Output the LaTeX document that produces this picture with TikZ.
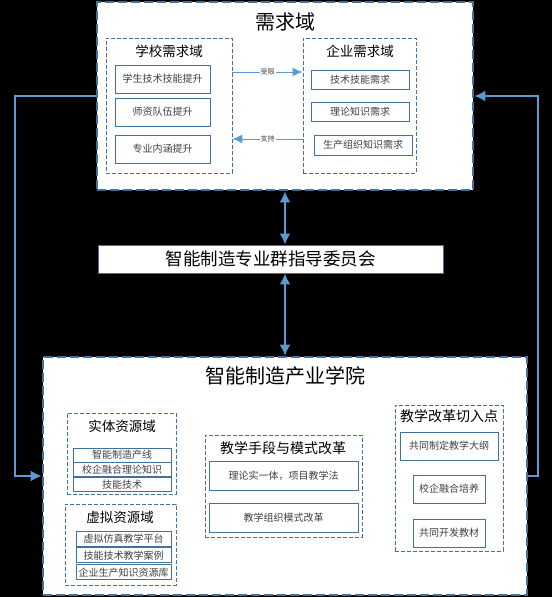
\documentclass[tikz,border=0pt]{standalone}
\usepackage{fontspec}
\setmainfont{Noto Sans CJK SC}
\usepackage{tikz}
\usepackage{xcolor}
\usetikzlibrary{arrows,arrows.meta,calc,positioning,shapes}
\definecolor{boxblue}{HTML}{41719C}
\definecolor{lineblue}{HTML}{5B9BD5}
\definecolor{itemgray}{HTML}{404040}
\tikzset{%
	area/.style     = {draw=boxblue, fill=white, line width=2.6pt, dash pattern=on 9pt off 4pt, rectangle},
	subarea/.style  = {draw=boxblue, fill=white, line width=0.9pt, dash pattern=on 4pt off 2pt, rectangle},
	item/.style     = {draw=boxblue, fill=white, line width=0.9pt, rectangle, text=itemgray, font=\fontsize{10}{12}\selectfont, inner sep=0pt, text centered},
	title/.style    = {font=\fontsize{13.5}{16}\selectfont, text=black},
	bigtitle/.style = {font=\fontsize{20}{24}\selectfont, text=black},
	link/.style     = {draw=lineblue, line width=2.6pt, -{Latex[length=11pt,width=11pt]}},
	thinlink/.style = {draw=lineblue, line width=1pt, -{Latex[length=10pt,width=9pt]}},
	tag/.style      = {fill=white, inner sep=1pt, text=itemgray, font=\fontsize{7}{8}\selectfont},
}
\begin{document}
\begin{tikzpicture}[x=1pt,y=-1pt]
			\fill[black] (0,0) rectangle (552,597);
			\useasboundingbox (0,0) rectangle (552,597);
			\node[area, minimum width=376, minimum height=188] (demand) at (285,96) {};
			\node[bigtitle] (demandT) at (285,22) {需求域};
			\node[subarea, minimum width=126, minimum height=135] (school) at (169,105.5) {};
			\node[title] (schoolT) at (169,51) {学校需求域};
			\node[item, minimum width=95, minimum height=28] (s1) at (162.5,79) {学生技术技能提升};
			\node[item, minimum width=95, minimum height=28] (s2) at (162.5,112) {师资队伍提升};
			\node[item, minimum width=95, minimum height=28] (s3) at (162.5,149) {专业内涵提升};
			\node[subarea, minimum width=113, minimum height=135] (firm) at (359.5,105.5) {};
			\node[title] (firmT) at (360,51) {企业需求域};
			\node[item, minimum width=98, minimum height=19] (f1) at (360,79.5) {技术技能需求};
			\node[item, minimum width=98, minimum height=19] (f2) at (360,111.5) {理论知识需求};
			\node[item, minimum width=98, minimum height=20] (f3) at (363,145) {生产组织知识需求};
			\coordinate (upline) at (0,72);
			\coordinate (downline) at (0,139);
			\draw[thinlink] (school.east |- upline) -- (firm.west |- upline) node[tag, midway] {受限};
			\draw[thinlink] (firm.west |- downline) -- (school.east |- downline) node[tag, midway] {支持};
			\node[draw=boxblue, fill=white, line width=0.9pt, minimum width=345, minimum height=28, font=\fontsize{17.5}{20}\selectfont] (guide) at (270.5,259) {智能制造专业群指导委员会};
			\node[area, minimum width=484, minimum height=238] (college) at (285,476) {};
			\node[bigtitle] (collegeT) at (285,376) {智能制造产业学院};
			\draw[link, {Latex[length=11pt,width=11pt]}-{Latex[length=11pt,width=11pt]}] (demand.south) -- (demand.south |- guide.north);
			\draw[link, {Latex[length=11pt,width=11pt]}-{Latex[length=11pt,width=11pt]}] (college.north |- guide.south) -- (college.north);
			\coordinate (lbend) at (15,96);
			\coordinate (rbend) at (538,96);
			\draw[link] (demand.west) -- (lbend) |- (college.west);
			\draw[link] (college.east) -| (rbend) -- (demand.east);
			\node[subarea, minimum width=109, minimum height=81] (real) at (121.5,453.5) {};
			\node[title] (realT) at (122,426) {实体资源域};
			\node[item, minimum width=98, minimum height=14] (r1) at (122,455) {智能制造产线};
			\node[item, minimum width=98, minimum height=14, below=0pt of r1] (r2) {校企融合理论知识};
			\node[item, minimum width=98, minimum height=14, below=0pt of r2] (r3) {技能技术};
			\node[subarea, minimum width=111, minimum height=81] (virt) at (120.5,544.5) {};
			\node[title] (virtT) at (120,517) {虚拟资源域};
			\node[item, minimum width=95, minimum height=15] (v1) at (123.5,538.5) {虚拟仿真教学平台};
			\node[item, minimum width=95, minimum height=15, below=1pt of v1] (v2) {技能技术教学案例};
			\node[item, minimum width=95, minimum height=15, below=1pt of v2] (v3) {企业生产知识资源库};
			\node[subarea, minimum width=157, minimum height=102] (teach) at (283.5,486) {};
			\node[title, font=\fontsize{14}{16}\selectfont] (teachT) at (283,448) {教学手段与模式改革};
			\node[item, minimum width=149, minimum height=29] (t1) at (283.5,475.5) {理论实一体，项目教学法};
			\node[item, minimum width=149, minimum height=29] (t2) at (283.5,517.5) {教学组织模式改革};
			\node[subarea, minimum width=108, minimum height=146] (point) at (449,478) {};
			\node[title, font=\fontsize{14}{16}\selectfont] (pointT) at (449,416) {教学改革切入点};
			\node[item, minimum width=98, minimum height=28] (p1) at (449,446) {共同制定教学大纲};
			\node[item, minimum width=72, minimum height=28] (p2) at (449,489) {校企融合培养};
			\node[item, minimum width=72, minimum height=28] (p3) at (449,533) {共同开发教材};
			\end{tikzpicture}
\end{document}
